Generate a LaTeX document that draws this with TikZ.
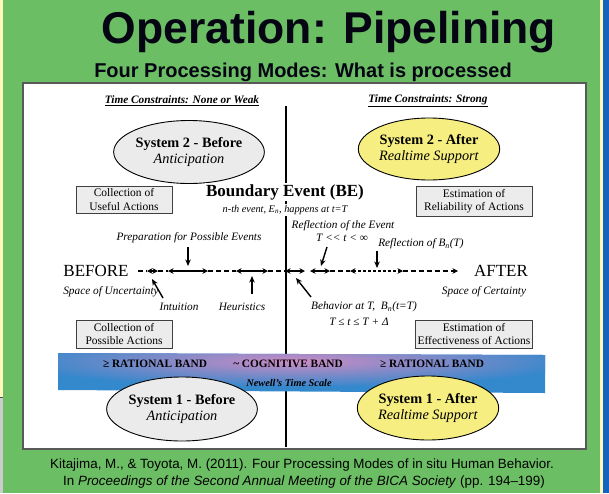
\documentclass[tikz,border=0pt]{standalone}
\usepackage{fontspec}
\setmainfont{Liberation Serif}
\newfontfamily\arialf{Liberation Sans}
\usetikzlibrary{arrows.meta,shapes.geometric}
\definecolor{bggreen}{RGB}{108,190,100}
\definecolor{stripyellow}{RGB}{255,246,190}
\definecolor{sidebar}{RGB}{20,100,190}
\definecolor{ellgray}{RGB}{235,235,235}
\definecolor{ellyellow}{RGB}{246,238,128}
\definecolor{boxgray}{RGB}{236,236,236}
\definecolor{bandblue}{RGB}{52,136,204}
\definecolor{bandpink}{RGB}{204,140,196}
\definecolor{titleink}{RGB}{5,5,20}
\newcommand{\fsz}[2]{\fontsize{#1}{#2}\selectfont}
\tikzset{
  ell/.style={ellipse, draw=black, line width=0.9pt, inner sep=0pt, align=center, font=\fsz{14.3}{16.5}},
  boxnode/.style={draw=black!75, fill=boxgray, line width=0.7pt, inner sep=0pt, align=center, font=\fsz{11.5}{13.5}},
  lbl/.style={font=\fsz{11.3}{13}\itshape, inner sep=0pt, align=center},
  pointer/.style={-{Stealth[length=6.5pt,width=5.5pt]}, line width=1.4pt},
  seg/.style={{Stealth[length=5.5pt,width=5.5pt]}-{Stealth[length=5.5pt,width=5.5pt]}, line width=1.3pt},
  dashline/.style={line width=1.3pt, dash pattern=on 4.5pt off 3.5pt},
  bandtxt/.style={font=\fsz{11.3}{13}\bfseries, inner sep=0pt},
  titlefont/.style={anchor=base, inner sep=0pt, font=\arialf\bfseries\fsz{44.5}{46}}
}
\begin{document}
\begin{tikzpicture}[x=1pt,y=-1pt]
\useasboundingbox (0,0) rectangle (609,493);
% background
\fill[bggreen] (0,0) rectangle (609,493);
\fill[stripyellow] (0,0) rectangle (3,397);
\fill[black!20] (0,397) rectangle (3,493);
\draw[black!70, line width=0.8pt] (0,397) -- (3,397);
\fill[stripyellow] (600,0) rectangle (603,493);
\fill[sidebar] (603,0) rectangle (609,493);
% titles
\node (title) at (329,43) [titlefont, text=titleink] {Operation: Pipelining};
\node (subtitle) at (303,77) [anchor=base, inner sep=0pt, text=titleink, font=\arialf\bfseries\fsz{20}{22}] {Four Processing Modes: What is processed};
% panel
\draw[fill=white, draw=black!65, line width=1.1pt] (23,83) rectangle (586,449);
% vertical divider
\coordinate (vtop) at (286,106);
\coordinate (vbot) at (286,447);
\draw[line width=1.8pt] (vtop) -- (vbot);
% time constraints
\node (tcL) at (182,101) [inner sep=0pt, font=\fsz{11.3}{13}\bfseries\itshape] {\underline{Time Constraints: None or Weak}};
\node (tcR) at (428,101) [inner sep=0pt, font=\fsz{11.3}{13}\bfseries\itshape] {\underline{Time Constraints: Strong}};
% system 2 ellipses
\node (s2b) at (189,152) [ell, fill=ellgray, minimum width=138pt, minimum height=63pt] {\textbf{System 2 - Before}\\\textit{Anticipation}};
\node (s2a) at (429,149) [ell, fill=ellyellow, minimum width=123pt, minimum height=62pt] {\textbf{System 2 - After}\\\textit{Realtime Support}};
% boundary event
\node (be) at (285,192) [fill=white, inner sep=1pt, font=\fsz{17}{18}\bfseries] {Boundary Event (BE)};
\node (ben) at (285,210) [fill=white, inner sep=1pt, font=\fsz{10.3}{12}\itshape] {n-th event, E\textsubscript{n}, happens at t=T};
% boxes
\node (cua) at (124,199.5) [boxnode, minimum width=96pt, minimum height=27pt] {Collection of\\Useful Actions};
\node (era) at (474,201) [boxnode, minimum width=116pt, minimum height=30pt] {Estimation of\\Reliability of Actions};
\node (cpa) at (124,334) [boxnode, minimum width=96pt, minimum height=28pt] {Collection of\\Possible Actions};
\node (eea) at (474,334) [boxnode, minimum width=117pt, minimum height=28pt] {Estimation of\\Effectiveness of Actions};
% timeline labels
\node (before) at (96,271) [inner sep=0pt, font=\fsz{17}{18}] {BEFORE};
\node (after) at (501,271) [inner sep=0pt, font=\fsz{17}{18}] {AFTER};
\node (spu) at (111,292) [lbl] {Space of Uncertainty};
\node (spc) at (484,292) [lbl] {Space of Certainty};
% timeline coordinates
\coordinate (t0) at (138,271);
\coordinate (a1) at (147,271); \coordinate (b1) at (158,271);
\coordinate (a2) at (168,271); \coordinate (b2) at (208,271);
\coordinate (a3) at (236,271); \coordinate (b3) at (268,271);
\coordinate (a4) at (285,271); \coordinate (b4) at (305,271);
\coordinate (a5) at (310,271); \coordinate (b5) at (330,271);
\coordinate (a6) at (350,271); \coordinate (b6) at (403,271);
\coordinate (tend) at (458,271);
\draw[dashline] (t0) -- (a1);
\draw[dashline] (b1) -- (a2);
\draw[dashline] (b2) -- (a3);
\draw[dashline] (b3) -- (a4);
\draw[dashline] (b5) -- (a6);
\draw[dashline, -{Stealth[length=5.5pt,width=5.5pt]}] (b6) -- (tend);
\draw[seg] (a1) -- (b1);
\draw[seg] (a2) -- (b2);
\draw[seg] (a3) -- (b3);
\draw[seg] (a4) -- (b4);
\draw[seg] (a5) -- (b5);
\draw[seg, dash pattern=on 3pt off 2pt] (a6) -- (b6);
% annotations
\node (prep) at (189,238) [lbl] {Preparation for Possible Events};
\coordinate (prepS) at (188,247); \coordinate (prepE) at (188,266);
\draw[pointer] (prepS) -- (prepE);
\node (intu) at (179,307) [lbl] {Intuition};
\coordinate (intS) at (163,298); \coordinate (intE) at (152,279);
\draw[pointer] (intS) -- (intE);
\node (heur) at (242,307) [lbl] {Heuristics};
\coordinate (heuS) at (252,294); \coordinate (heuE) at (252,276);
\draw[pointer] (heuS) -- (heuE);
\node (beh) at (364,307) [lbl] {Behavior at T,\ \ B\textsubscript{n}(t=T)};
\node (beh2) at (359,322) [lbl] {T ≤ t ≤ T + Δ};
\coordinate (behS) at (311,297); \coordinate (behE) at (296,278);
\draw[pointer] (behS) -- (behE);
\node (refE) at (343,226) [lbl] {Reflection of the Event};
\node (refE2) at (342,238) [lbl] {T <{}< t < ∞};
\coordinate (refS) at (327,247); \coordinate (refEnd) at (321,266);
\draw[pointer] (refS) -- (refEnd);
\node (refB) at (421,244) [lbl] {Reflection of B\textsubscript{n}(T)};
\coordinate (rbS) at (377,251); \coordinate (rbE) at (377,268);
\draw[pointer] (rbS) -- (rbE);
% band
\begin{scope}
\clip (58,353) -- (545,355) -- (545,393) -- (58,390) -- cycle;
\fill[bandblue] (50,340) rectangle (560,400);
\shade[inner color=bandpink, outer color=bandblue] (295,361) ellipse [x radius=280, y radius=26];
\end{scope}
\node (rbl) at (155,364) [bandtxt] {≥ RATIONAL BAND};
\node (cog) at (288,364) [bandtxt] {\textasciitilde{} COGNITIVE BAND};
\node (rbr) at (432,364) [bandtxt] {≥ RATIONAL BAND};
\node (newell) at (289,383) [inner sep=0pt, font=\fsz{10.3}{12}\bfseries\itshape] {Newell's Time Scale};
% system 1 ellipses
\node (s1b) at (182,409) [ell, fill=ellgray, minimum width=125pt, minimum height=64pt] {\textbf{System 1 - Before}\\\textit{Anticipation}};
\node (s1a) at (428,408) [ell, fill=ellyellow, minimum width=125pt, minimum height=64pt] {\textbf{System 1 - After}\\\textit{Realtime Support}};
% citation
\node (cit1) at (302,465) [inner sep=0pt, font=\arialf\fsz{13.4}{15}] {Kitajima, M., \& Toyota, M. (2011). Four Processing Modes of in situ Human Behavior.};
\node (cit2) at (304,482) [inner sep=0pt, font=\arialf\fsz{13.4}{15}] {In \textit{Proceedings of the Second Annual Meeting of the BICA Society} (pp. 194–199)};
\end{tikzpicture}
\end{document}
